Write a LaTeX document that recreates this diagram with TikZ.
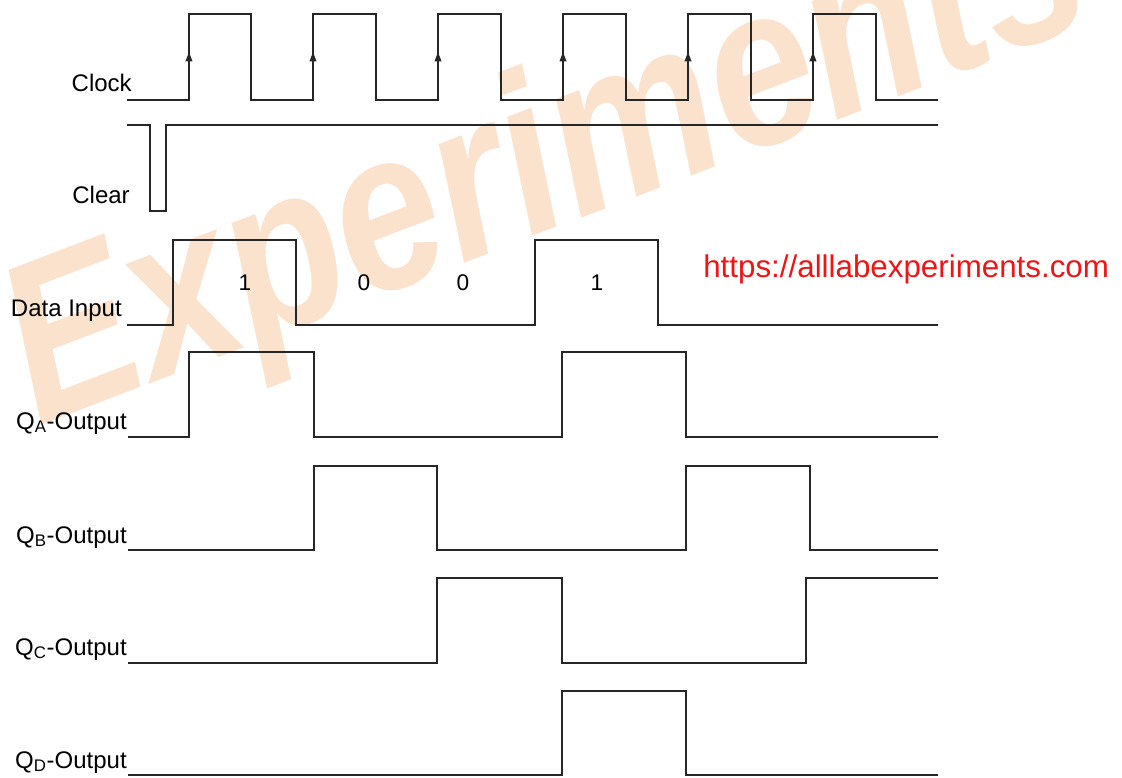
\documentclass[tikz,border=0pt]{standalone}
\usepackage{fontspec}
\setmainfont{Liberation Sans}
\usepackage{xcolor}
\usetikzlibrary{arrows.meta,positioning}
\definecolor{wmark}{RGB}{251,226,205}

\begin{document}
\begin{tikzpicture}[x=0.75pt, y=-0.75pt,
    signal/.style={line width=1pt, black!85},
    lbl/.style={anchor=base east, inner sep=0pt, font=\fontsize{18}{20}\selectfont},
    bit/.style={inner sep=0pt, font=\fontsize{17}{20}\selectfont},
    edgetip/.style={-{Triangle[length=7pt, width=5pt]}, line width=1pt, black!85}]

    \useasboundingbox (0,0) rectangle (1122,778);

    % Watermark
    \begin{scope}
    \clip (0,0) rectangle (1122,778);
    \node [rotate=21, yscale=1.2, text=wmark, font=\fontsize{142}{142}\selectfont\bfseries\itshape] (wm) at (548,168) {Experiments};
    \end{scope}

    % Labels
    \node [lbl] (clk) at (132,91) {Clock};
    \node [lbl] (clr) at (130,203) {Clear};
    \node [lbl] (din) at (122,316) {Data Input};
    \node [lbl] (qa) at (127,429) {Q\textsubscript{A}-Output};
    \node [lbl] (qb) at (127,543) {Q\textsubscript{B}-Output};
    \node [lbl] (qc) at (127,655) {Q\textsubscript{C}-Output};
    \node [lbl] (qd) at (127,768) {Q\textsubscript{D}-Output};

    % Clock
    \draw [signal] (127,100)
        foreach \r/\f in {189/251, 313/376, 438/501, 563/626, 688/751, 813/876} {
            -- (\r,100) -- (\r,14) -- (\f,14) -- (\f,100)
        } -- (938,100);
    \foreach \r in {189, 313, 438, 563, 688, 813}
        \draw [edgetip] (\r,72) -- (\r,52);

    % Clear
    \draw [signal] (127,125) -- (150,125) -- (150,211) -- (166,211) -- (166,125) -- (938,125);

    % Data input
    \draw [signal] (127,325) -- (173,325) -- (173,240) -- (296,240) -- (296,325)
        -- (535,325) -- (535,240) -- (658,240) -- (658,325) -- (938,325);
    \node [bit] (b1) at (245,283) {1};
    \node [bit] (b2) at (364,283) {0};
    \node [bit] (b3) at (463,283) {0};
    \node [bit] (b4) at (597,283) {1};

    % Outputs
    \draw [signal] (128,437) -- (189,437) -- (189,352) -- (314,352) -- (314,437)
        -- (562,437) -- (562,352) -- (686,352) -- (686,437) -- (938,437);
    \draw [signal] (128,550) -- (314,550) -- (314,466) -- (437,466) -- (437,550)
        -- (686,550) -- (686,466) -- (810,466) -- (810,550) -- (938,550);
    \draw [signal] (128,663) -- (437,663) -- (437,578) -- (562,578) -- (562,663)
        -- (806,663) -- (806,578) -- (938,578);
    \draw [signal] (128,775) -- (562,775) -- (562,691) -- (686,691) -- (686,775) -- (938,775);

    \node [anchor=base west, inner sep=0pt, text={rgb,255:red,240;green,20;blue,20}, font=\fontsize{23.5}{26}\selectfont] (url) at (703,277) {https://alllabexperiments.com};
\end{tikzpicture}
\end{document}
